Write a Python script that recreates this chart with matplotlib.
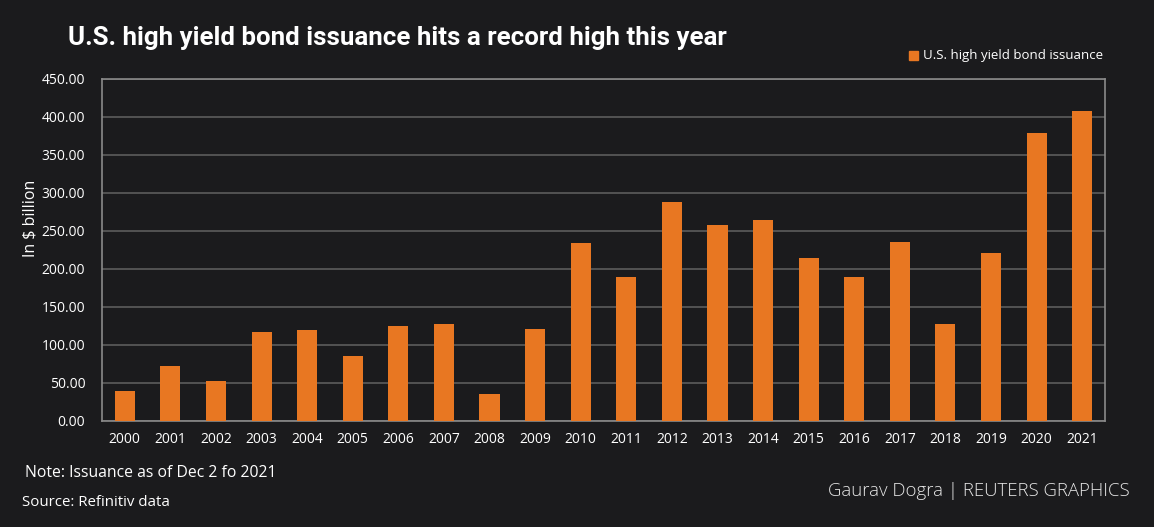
import matplotlib
matplotlib.use("Agg")
import matplotlib.pyplot as plt
from matplotlib.patches import Rectangle

years = [str(y) for y in range(2000, 2022)]
issuance = [40, 72.5, 53, 117.5, 120, 86, 125.5, 127, 36, 121.5, 234, 190,
            288, 257.5, 264, 214, 189, 235, 128, 220.5, 378.5, 407.5]
yticks = [0, 50, 100, 150, 200, 250, 300, 350, 400, 450]

BG = "#1b1b1d"
ORANGE = "#e87722"
GRID = "#5c5c5c"
FRAME = "#8a8a8a"
TXT = "#ffffff"

fig = plt.figure(figsize=(11.54, 5.27), dpi=100, facecolor=BG)
ax = fig.add_axes([102/1154, 1-421/527, (1105-102)/1154, (421-79)/527])
ax.set_facecolor(BG)

x = list(range(len(years)))
ax.bar(x, issuance, width=0.44, color=ORANGE, zorder=3, label="U.S. high yield bond issuance")
ax.set_xlim(-0.5, len(years) - 0.5)
ax.set_ylim(0, 450)
ax.set_yticks(yticks)
ax.set_yticklabels([f"{v:.2f}" for v in yticks], fontsize=10, color=TXT, family="Open Sans")
ax.set_xticks(x)
ax.set_xticklabels(years, fontsize=10, color=TXT, family="Open Sans")
ax.tick_params(axis="y", length=0, pad=12)
ax.tick_params(axis="x", length=0, pad=8)
ax.grid(axis="y", color=GRID, linewidth=1.2, zorder=0)
for s in ax.spines.values():
    s.set_color(FRAME)
    s.set_linewidth(1.2)

fig.text(30/1154, 1-218/527, "In $ billion", fontsize=11.5, color=TXT, family="Open Sans",
         rotation=90, va="center", ha="center")

fig.text(68/1154, 1-38/527, "U.S. high yield bond issuance hits a record high this year",
         fontsize=18.6, fontweight="bold", color=TXT, va="center", ha="left",
         family=["Roboto", "DejaVu Sans"], fontstretch="condensed")

# legend
fig.patches.append(Rectangle((909/1154, 1-60/527), 9/1154, 9/527, transform=fig.transFigure,
                             color=ORANGE))
fig.text(923/1154, 1-55/527, "U.S. high yield bond issuance", fontsize=9.5, color=TXT,
         va="center", ha="left", family="Open Sans")

fig.text(25/1154, 1-473/527, "Note: Issuance as of Dec 2 fo 2021", fontsize=11.3, color=TXT,
         va="center", ha="left", family="Open Sans")
fig.text(22/1154, 1-502/527, "Source: Refinitiv data", fontsize=10.8, color=TXT,
         va="center", ha="left", family="Open Sans")
fig.text(1130/1154, 1-491/527, "Gaurav Dogra | REUTERS GRAPHICS", fontsize=13.4, color="#e6e6e6",
         va="center", ha="right", family="Open Sans", fontweight="light")

fig.savefig("out.png", dpi=100, facecolor=BG)
